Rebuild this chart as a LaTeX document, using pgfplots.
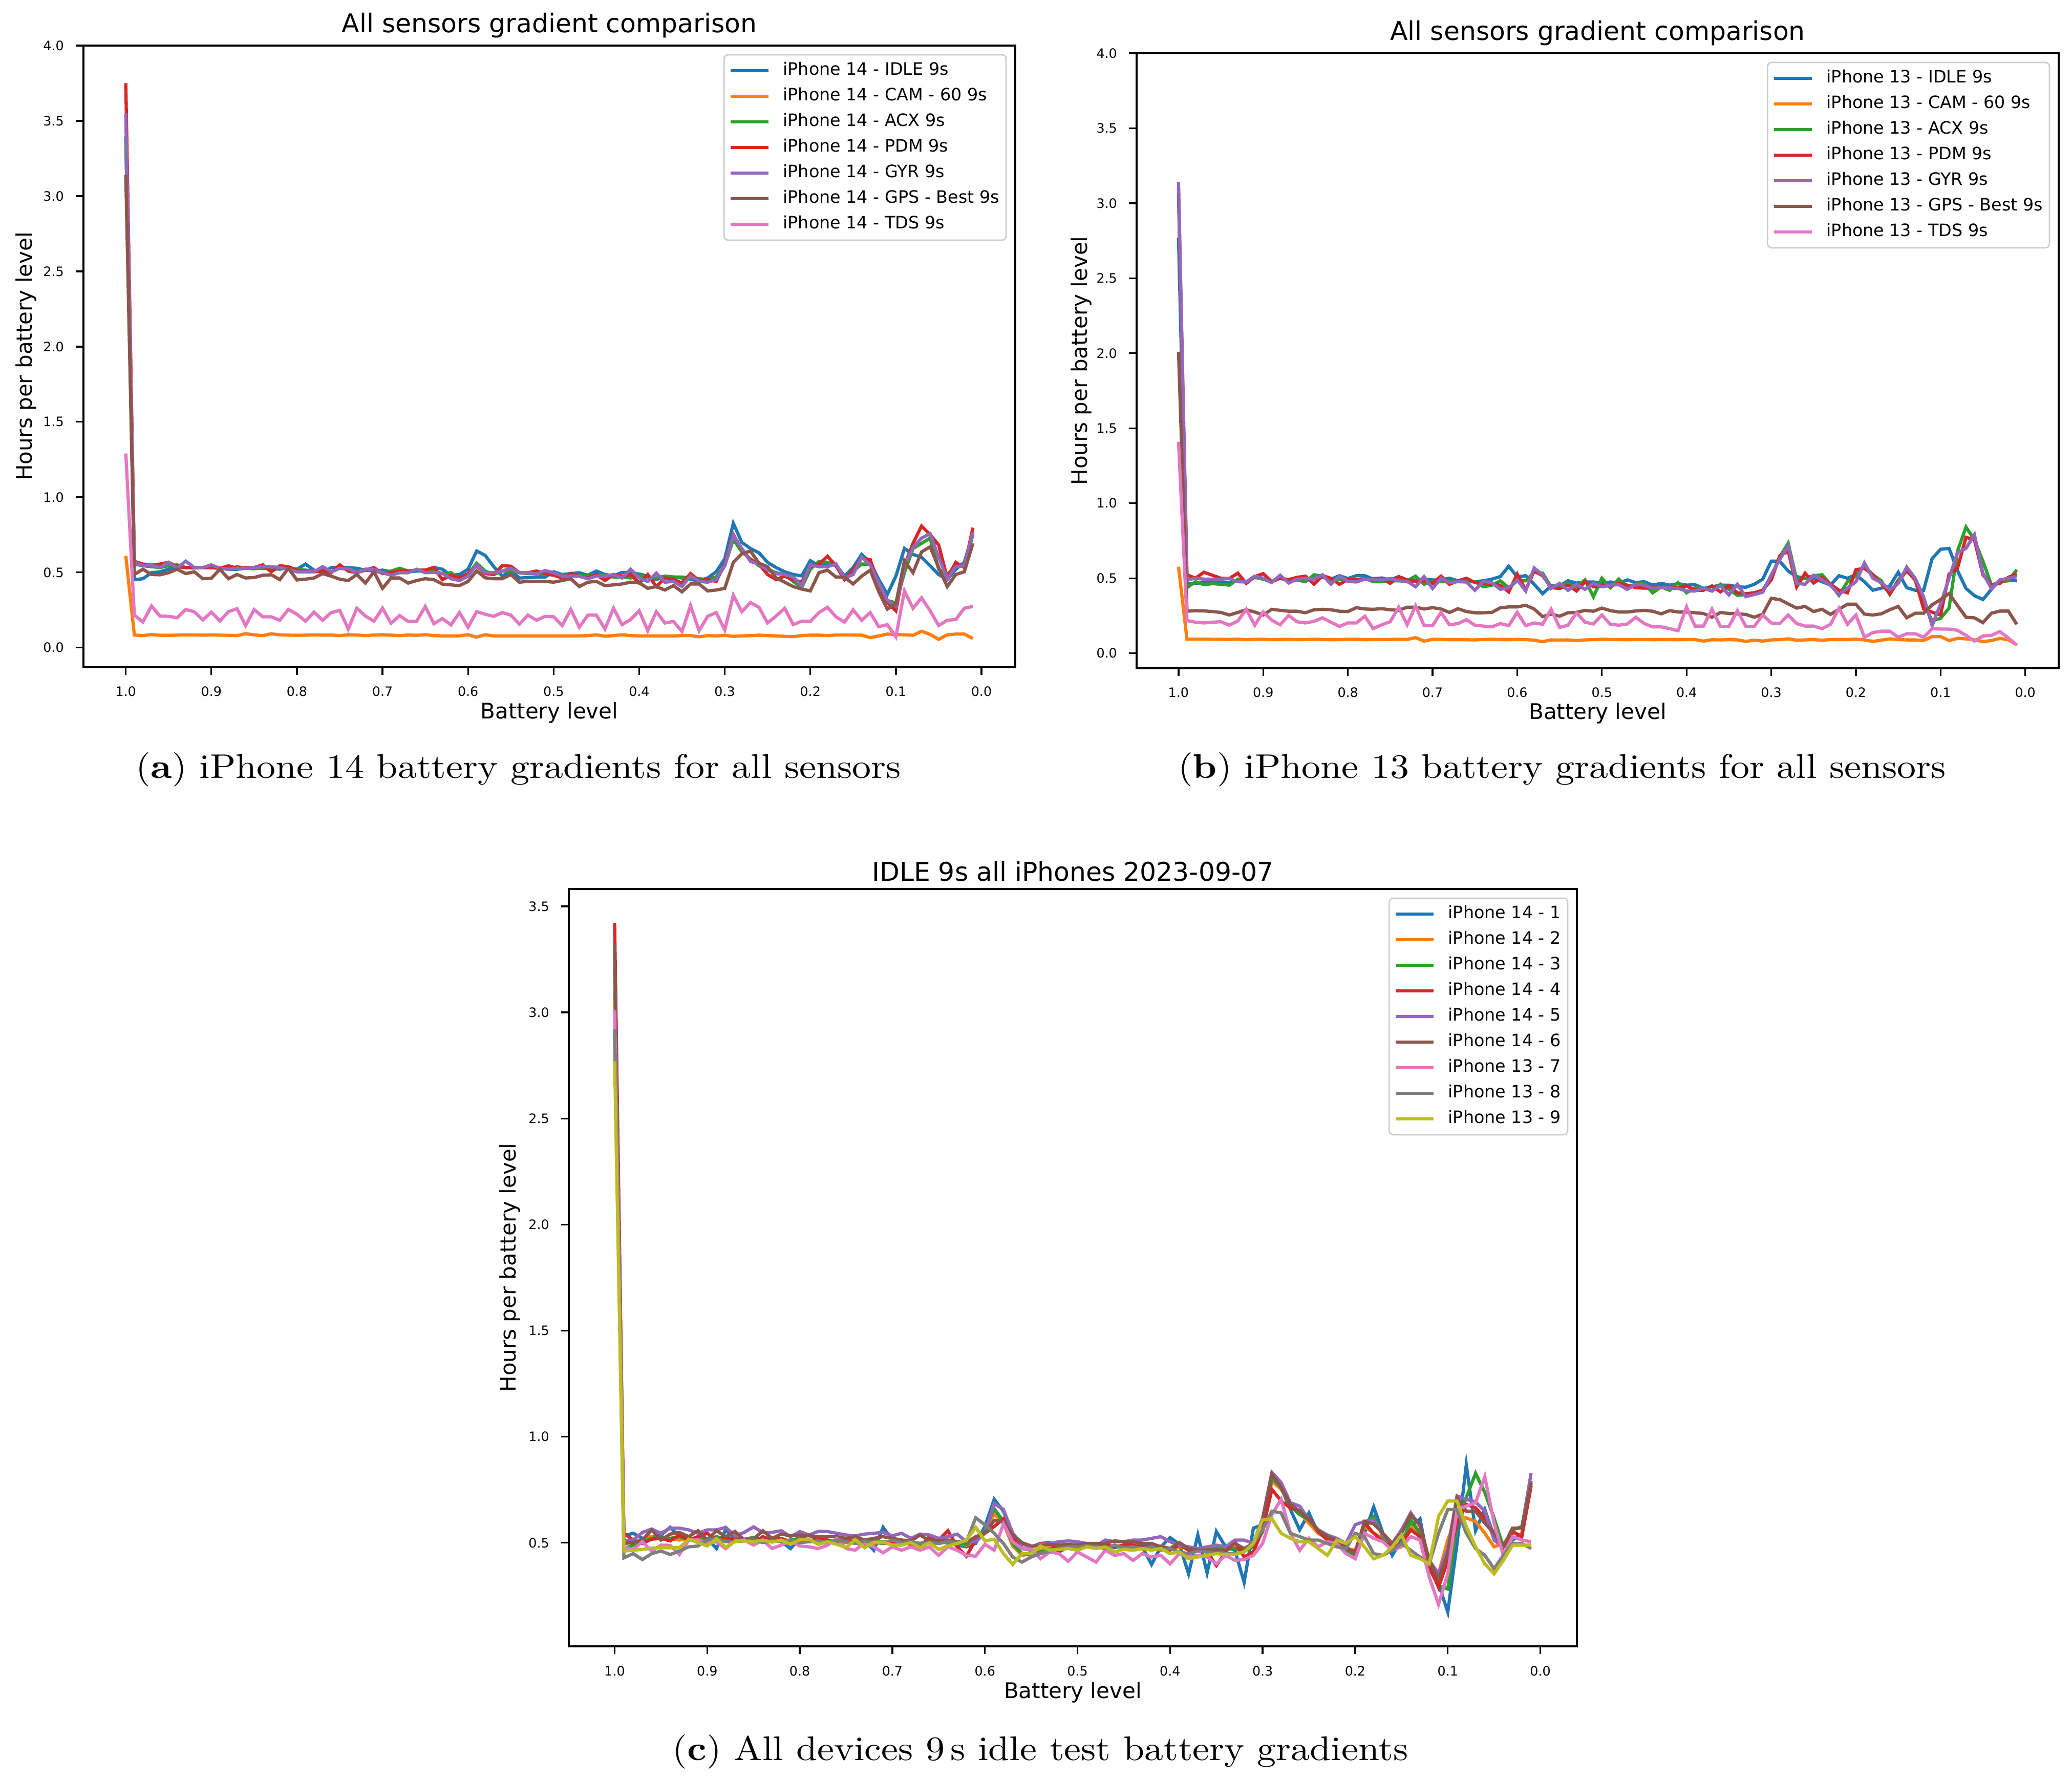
\documentclass[border=0pt]{standalone}
\usepackage{fontspec}
\setmainfont{DejaVu Sans}
\newfontfamily\capfont[Extension=.otf, UprightFont=*-regular, BoldFont=*-bold, FakeStretch=1.11]{lmroman10}
\usepackage{pgfplots}
\usepackage{pgfplotstable}
\pgfplotsset{compat=1.18}
\definecolor{c0}{HTML}{1F77B4}
\definecolor{c1}{HTML}{FF7F0E}
\definecolor{c2}{HTML}{2CA02C}
\definecolor{c3}{HTML}{D62728}
\definecolor{c4}{HTML}{9467BD}
\definecolor{c5}{HTML}{8C564B}
\definecolor{c6}{HTML}{E377C2}
\definecolor{c7}{HTML}{7F7F7F}
\definecolor{c8}{HTML}{BCBD22}

\pgfplotstableread{
x a0 a1 a2 a3 a4 a5 a6
1.00 3.40 0.61 3.38 3.75 3.55 3.14 1.29
0.99 0.452 0.084 0.555 0.573 0.567 0.486 0.216
0.98 0.458 0.080 0.544 0.555 0.544 0.521 0.170
0.97 0.498 0.087 0.538 0.550 0.550 0.486 0.277
0.96 0.504 0.082 0.532 0.555 0.532 0.484 0.210
0.95 0.521 0.082 0.544 0.567 0.567 0.498 0.208
0.94 0.538 0.083 0.550 0.538 0.527 0.521 0.199
0.93 0.532 0.085 0.532 0.532 0.575 0.492 0.253
0.92 0.532 0.084 0.529 0.532 0.532 0.504 0.239
0.91 0.532 0.083 0.532 0.532 0.532 0.458 0.184
0.90 0.532 0.085 0.532 0.532 0.550 0.461 0.236
0.89 0.527 0.083 0.527 0.527 0.527 0.521 0.178
0.88 0.521 0.082 0.521 0.544 0.521 0.458 0.239
0.87 0.521 0.080 0.538 0.527 0.527 0.486 0.259
0.86 0.527 0.093 0.527 0.532 0.527 0.463 0.147
0.85 0.532 0.085 0.524 0.532 0.532 0.466 0.253
0.84 0.527 0.080 0.530 0.550 0.538 0.481 0.205
0.83 0.527 0.092 0.521 0.504 0.538 0.484 0.205
0.82 0.521 0.085 0.527 0.544 0.532 0.452 0.182
0.81 0.532 0.083 0.527 0.538 0.521 0.527 0.254
0.80 0.521 0.082 0.521 0.515 0.504 0.450 0.222
0.79 0.555 0.083 0.515 0.509 0.504 0.455 0.176
0.78 0.515 0.085 0.509 0.504 0.504 0.463 0.236
0.77 0.498 0.083 0.515 0.509 0.538 0.492 0.182
0.76 0.532 0.084 0.504 0.498 0.504 0.475 0.233
0.75 0.532 0.080 0.527 0.550 0.527 0.455 0.247
0.74 0.532 0.086 0.521 0.509 0.525 0.446 0.124
0.73 0.527 0.084 0.509 0.498 0.498 0.486 0.262
0.72 0.515 0.080 0.521 0.515 0.521 0.429 0.210
0.71 0.509 0.084 0.509 0.532 0.521 0.504 0.176
0.70 0.515 0.086 0.498 0.492 0.498 0.394 0.262
0.69 0.504 0.083 0.509 0.498 0.481 0.463 0.162
0.68 0.509 0.080 0.527 0.509 0.498 0.463 0.213
0.67 0.504 0.084 0.509 0.509 0.498 0.429 0.174
0.66 0.509 0.082 0.515 0.515 0.521 0.446 0.176
0.65 0.509 0.086 0.504 0.515 0.498 0.458 0.274
0.64 0.532 0.080 0.509 0.533 0.500 0.452 0.159
0.63 0.521 0.078 0.492 0.452 0.494 0.422 0.193
0.62 0.481 0.078 0.498 0.481 0.458 0.417 0.151
0.61 0.486 0.078 0.458 0.463 0.446 0.412 0.233
0.60 0.521 0.086 0.486 0.492 0.475 0.440 0.136
0.59 0.642 0.070 0.561 0.544 0.550 0.510 0.239
0.58 0.613 0.086 0.509 0.492 0.498 0.464 0.222
0.57 0.538 0.078 0.486 0.486 0.498 0.458 0.208
0.56 0.475 0.078 0.509 0.544 0.509 0.458 0.233
0.55 0.509 0.078 0.509 0.541 0.527 0.486 0.216
0.54 0.463 0.078 0.498 0.498 0.498 0.435 0.156
0.53 0.465 0.078 0.492 0.498 0.498 0.440 0.216
0.52 0.469 0.078 0.492 0.509 0.490 0.440 0.182
0.51 0.469 0.078 0.486 0.492 0.512 0.440 0.208
0.50 0.504 0.078 0.486 0.481 0.498 0.435 0.205
0.49 0.486 0.078 0.481 0.463 0.475 0.446 0.147
0.48 0.492 0.078 0.475 0.492 0.475 0.458 0.254
0.47 0.498 0.078 0.481 0.475 0.475 0.406 0.136
0.46 0.481 0.080 0.475 0.463 0.458 0.435 0.216
0.45 0.509 0.085 0.486 0.486 0.475 0.440 0.216
0.44 0.486 0.076 0.481 0.446 0.475 0.412 0.124
0.43 0.477 0.080 0.469 0.486 0.486 0.417 0.262
0.42 0.500 0.086 0.469 0.475 0.463 0.423 0.153
0.41 0.498 0.080 0.463 0.486 0.521 0.435 0.187
0.40 0.489 0.078 0.481 0.429 0.463 0.431 0.245
0.39 0.475 0.078 0.469 0.486 0.440 0.394 0.113
0.38 0.452 0.078 0.463 0.406 0.495 0.406 0.239
0.37 0.475 0.078 0.475 0.463 0.435 0.383 0.164
0.36 0.469 0.078 0.469 0.454 0.440 0.412 0.174
0.35 0.463 0.080 0.469 0.429 0.406 0.371 0.107
0.34 0.452 0.080 0.463 0.492 0.478 0.423 0.279
0.33 0.446 0.072 0.458 0.446 0.440 0.423 0.113
0.32 0.463 0.080 0.452 0.452 0.435 0.377 0.208
0.31 0.504 0.078 0.469 0.440 0.452 0.383 0.233
0.30 0.590 0.082 0.544 0.555 0.544 0.394 0.118
0.29 0.826 0.075 0.720 0.751 0.745 0.567 0.348
0.28 0.699 0.078 0.636 0.653 0.659 0.624 0.239
0.27 0.659 0.080 0.590 0.584 0.573 0.642 0.300
0.26 0.630 0.083 0.544 0.555 0.555 0.561 0.268
0.25 0.567 0.080 0.521 0.486 0.515 0.538 0.164
0.24 0.532 0.078 0.498 0.452 0.492 0.463 0.210
0.23 0.504 0.075 0.486 0.475 0.486 0.435 0.262
0.22 0.486 0.073 0.440 0.452 0.469 0.406 0.153
0.21 0.477 0.080 0.400 0.435 0.412 0.389 0.176
0.20 0.578 0.083 0.521 0.538 0.550 0.377 0.174
0.19 0.544 0.083 0.573 0.555 0.538 0.498 0.233
0.18 0.555 0.080 0.567 0.607 0.538 0.515 0.268
0.17 0.550 0.084 0.544 0.544 0.555 0.469 0.205
0.16 0.475 0.084 0.452 0.452 0.463 0.469 0.170
0.15 0.532 0.084 0.509 0.515 0.486 0.423 0.251
0.14 0.619 0.083 0.555 0.596 0.601 0.475 0.182
0.13 0.567 0.067 0.555 0.584 0.550 0.515 0.233
0.12 0.452 0.078 0.429 0.417 0.429 0.371 0.139
0.11 0.354 0.090 0.314 0.302 0.314 0.256 0.153
0.10 0.475 0.088 0.297 0.245 0.274 0.291 0.072
0.09 0.659 0.085 0.498 0.544 0.544 0.578 0.377
0.08 0.619 0.082 0.659 0.693 0.665 0.498 0.262
0.07 0.601 0.109 0.693 0.808 0.728 0.636 0.331
0.06 0.544 0.088 0.728 0.751 0.757 0.670 0.245
0.05 0.486 0.055 0.521 0.682 0.601 0.532 0.147
0.04 0.452 0.085 0.486 0.463 0.458 0.406 0.182
0.03 0.521 0.090 0.544 0.567 0.538 0.486 0.187
0.02 0.567 0.090 0.544 0.532 0.544 0.504 0.262
0.01 0.762 0.061 0.751 0.797 0.768 0.693 0.274
}\tabA

\pgfplotstableread{
x b0 b1 b2 b3 b4 b5 b6
1.00 2.77 0.577 3.05 3.10 3.14 2.01 1.41
0.99 0.466 0.093 0.437 0.523 0.489 0.280 0.218
0.98 0.466 0.094 0.477 0.500 0.500 0.284 0.207
0.97 0.471 0.094 0.457 0.540 0.494 0.282 0.202
0.96 0.475 0.093 0.464 0.520 0.494 0.278 0.207
0.95 0.471 0.093 0.460 0.500 0.494 0.272 0.210
0.94 0.471 0.092 0.454 0.498 0.498 0.255 0.187
0.93 0.483 0.094 0.494 0.534 0.477 0.272 0.215
0.92 0.477 0.091 0.477 0.466 0.475 0.290 0.293
0.91 0.509 0.093 0.506 0.511 0.514 0.275 0.187
0.90 0.494 0.093 0.494 0.531 0.500 0.255 0.275
0.89 0.477 0.091 0.477 0.477 0.471 0.293 0.221
0.88 0.506 0.092 0.500 0.500 0.520 0.286 0.190
0.87 0.483 0.093 0.483 0.491 0.468 0.280 0.252
0.86 0.491 0.091 0.489 0.506 0.494 0.280 0.210
0.85 0.494 0.092 0.477 0.514 0.498 0.270 0.202
0.84 0.500 0.093 0.523 0.460 0.494 0.290 0.213
0.83 0.506 0.092 0.514 0.517 0.523 0.293 0.236
0.82 0.494 0.090 0.489 0.500 0.460 0.290 0.207
0.81 0.517 0.091 0.494 0.460 0.514 0.280 0.179
0.80 0.498 0.093 0.491 0.491 0.479 0.278 0.202
0.79 0.517 0.093 0.489 0.489 0.475 0.304 0.202
0.78 0.517 0.090 0.500 0.494 0.494 0.295 0.247
0.77 0.494 0.091 0.477 0.498 0.494 0.293 0.164
0.76 0.502 0.092 0.477 0.500 0.489 0.297 0.190
0.75 0.489 0.092 0.483 0.466 0.498 0.290 0.210
0.74 0.511 0.093 0.483 0.511 0.483 0.286 0.307
0.73 0.489 0.092 0.483 0.489 0.479 0.307 0.190
0.72 0.489 0.104 0.514 0.477 0.443 0.307 0.316
0.71 0.494 0.081 0.460 0.483 0.511 0.295 0.184
0.70 0.489 0.093 0.477 0.466 0.432 0.304 0.184
0.69 0.489 0.093 0.477 0.514 0.500 0.295 0.272
0.68 0.500 0.090 0.477 0.460 0.471 0.272 0.190
0.67 0.483 0.090 0.483 0.483 0.477 0.297 0.198
0.66 0.483 0.090 0.477 0.500 0.475 0.278 0.224
0.65 0.477 0.089 0.477 0.471 0.420 0.270 0.187
0.64 0.483 0.092 0.443 0.466 0.479 0.270 0.181
0.63 0.494 0.093 0.454 0.460 0.471 0.272 0.176
0.62 0.511 0.091 0.483 0.454 0.426 0.303 0.198
0.61 0.580 0.090 0.437 0.409 0.437 0.309 0.184
0.60 0.509 0.093 0.483 0.528 0.489 0.309 0.272
0.59 0.517 0.091 0.483 0.420 0.415 0.320 0.184
0.58 0.460 0.087 0.540 0.548 0.568 0.295 0.202
0.57 0.397 0.077 0.534 0.517 0.523 0.244 0.193
0.56 0.449 0.089 0.443 0.437 0.432 0.261 0.293
0.55 0.449 0.088 0.454 0.432 0.466 0.247 0.172
0.54 0.483 0.089 0.466 0.454 0.420 0.270 0.187
0.53 0.468 0.084 0.443 0.415 0.460 0.272 0.270
0.52 0.475 0.089 0.489 0.477 0.426 0.286 0.207
0.51 0.475 0.091 0.377 0.443 0.466 0.280 0.195
0.50 0.468 0.093 0.500 0.449 0.443 0.301 0.255
0.49 0.475 0.092 0.437 0.449 0.454 0.284 0.193
0.48 0.466 0.091 0.494 0.466 0.457 0.275 0.187
0.47 0.489 0.090 0.443 0.454 0.426 0.275 0.195
0.46 0.471 0.092 0.460 0.437 0.460 0.282 0.240
0.45 0.477 0.092 0.466 0.434 0.454 0.286 0.198
0.44 0.454 0.090 0.403 0.434 0.432 0.280 0.176
0.43 0.466 0.091 0.443 0.443 0.437 0.263 0.176
0.42 0.454 0.091 0.420 0.434 0.434 0.284 0.164
0.41 0.464 0.090 0.471 0.437 0.432 0.275 0.150
0.40 0.454 0.091 0.403 0.449 0.415 0.275 0.309
0.39 0.457 0.091 0.437 0.420 0.415 0.270 0.181
0.38 0.432 0.081 0.432 0.420 0.434 0.265 0.181
0.37 0.443 0.090 0.415 0.449 0.415 0.240 0.293
0.36 0.454 0.089 0.460 0.409 0.449 0.272 0.179
0.35 0.454 0.091 0.426 0.449 0.389 0.265 0.179
0.34 0.443 0.089 0.386 0.403 0.460 0.263 0.284
0.33 0.440 0.079 0.392 0.397 0.377 0.259 0.179
0.32 0.460 0.087 0.403 0.403 0.392 0.240 0.179
0.31 0.494 0.081 0.420 0.420 0.407 0.261 0.255
0.30 0.614 0.089 0.511 0.489 0.523 0.366 0.202
0.29 0.614 0.091 0.642 0.648 0.625 0.358 0.198
0.28 0.548 0.096 0.733 0.682 0.716 0.329 0.255
0.27 0.511 0.087 0.489 0.443 0.466 0.301 0.198
0.26 0.500 0.089 0.500 0.534 0.460 0.312 0.181
0.25 0.498 0.091 0.517 0.468 0.520 0.278 0.181
0.24 0.477 0.087 0.523 0.506 0.489 0.293 0.164
0.23 0.454 0.091 0.460 0.460 0.454 0.259 0.193
0.22 0.517 0.091 0.386 0.420 0.392 0.293 0.300
0.21 0.500 0.091 0.477 0.403 0.434 0.327 0.193
0.20 0.523 0.094 0.517 0.557 0.477 0.327 0.255
0.19 0.477 0.089 0.585 0.566 0.602 0.261 0.107
0.18 0.420 0.079 0.523 0.523 0.500 0.255 0.138
0.17 0.434 0.087 0.483 0.466 0.471 0.263 0.147
0.16 0.449 0.096 0.392 0.397 0.423 0.290 0.147
0.15 0.540 0.091 0.489 0.477 0.466 0.312 0.107
0.14 0.437 0.089 0.551 0.551 0.574 0.236 0.130
0.13 0.420 0.089 0.489 0.489 0.500 0.267 0.130
0.12 0.420 0.085 0.329 0.295 0.375 0.267 0.107
0.11 0.631 0.111 0.216 0.274 0.184 0.323 0.164
0.10 0.693 0.111 0.233 0.255 0.329 0.358 0.161
0.09 0.699 0.085 0.301 0.528 0.500 0.398 0.161
0.08 0.551 0.099 0.682 0.568 0.671 0.318 0.153
0.07 0.432 0.096 0.841 0.773 0.699 0.240 0.119
0.06 0.384 0.090 0.756 0.756 0.790 0.236 0.081
0.05 0.358 0.077 0.614 0.523 0.534 0.204 0.115
0.04 0.426 0.085 0.454 0.454 0.432 0.267 0.119
0.03 0.489 0.099 0.477 0.466 0.489 0.281 0.145
0.02 0.489 0.090 0.483 0.506 0.500 0.281 0.102
0.01 0.483 0.056 0.557 0.528 0.511 0.193 0.054
}\tabB

\pgfplotstableread{
x c0 c1 c2 c3 c4 c5 c6 c7 c8
1.00 2.90 3.10 3.20 3.42 3.30 3.32 3.01 2.92 2.77
0.99 0.533 0.497 0.473 0.545 0.509 0.497 0.481 0.429 0.461
0.98 0.545 0.505 0.489 0.513 0.513 0.501 0.469 0.449 0.465
0.97 0.521 0.513 0.505 0.497 0.549 0.513 0.505 0.421 0.469
0.96 0.529 0.529 0.521 0.517 0.565 0.561 0.461 0.449 0.475
0.95 0.537 0.517 0.529 0.521 0.545 0.513 0.489 0.461 0.477
0.94 0.573 0.521 0.521 0.509 0.569 0.541 0.488 0.445 0.477
0.93 0.529 0.513 0.529 0.537 0.569 0.549 0.445 0.461 0.477
0.92 0.521 0.521 0.517 0.513 0.561 0.529 0.513 0.481 0.517
0.91 0.513 0.509 0.521 0.529 0.545 0.557 0.515 0.485 0.501
0.90 0.521 0.517 0.513 0.545 0.561 0.513 0.497 0.513 0.485
0.89 0.473 0.513 0.529 0.513 0.561 0.557 0.505 0.521 0.519
0.88 0.561 0.521 0.517 0.529 0.573 0.529 0.473 0.505 0.479
0.87 0.521 0.509 0.521 0.513 0.533 0.554 0.509 0.505 0.507
0.86 0.513 0.513 0.517 0.513 0.549 0.513 0.513 0.509 0.509
0.85 0.521 0.517 0.525 0.493 0.575 0.517 0.489 0.513 0.505
0.84 0.513 0.509 0.513 0.529 0.549 0.557 0.513 0.501 0.513
0.83 0.521 0.513 0.517 0.513 0.549 0.521 0.473 0.509 0.503
0.82 0.505 0.505 0.509 0.521 0.557 0.541 0.489 0.505 0.513
0.81 0.473 0.509 0.513 0.505 0.529 0.533 0.509 0.513 0.493
0.80 0.521 0.513 0.521 0.513 0.553 0.537 0.485 0.501 0.515
0.79 0.537 0.505 0.509 0.505 0.537 0.533 0.481 0.505 0.517
0.78 0.513 0.509 0.513 0.521 0.554 0.529 0.473 0.509 0.493
0.77 0.509 0.513 0.509 0.513 0.553 0.529 0.489 0.501 0.505
0.76 0.505 0.505 0.505 0.497 0.545 0.529 0.521 0.513 0.493
0.75 0.509 0.501 0.513 0.509 0.537 0.521 0.473 0.505 0.477
0.74 0.505 0.509 0.505 0.505 0.533 0.529 0.465 0.497 0.515
0.73 0.513 0.505 0.497 0.481 0.541 0.513 0.501 0.509 0.477
0.72 0.465 0.497 0.509 0.505 0.545 0.521 0.481 0.501 0.503
0.71 0.573 0.505 0.505 0.497 0.549 0.529 0.453 0.497 0.503
0.70 0.513 0.501 0.497 0.501 0.533 0.521 0.481 0.513 0.489
0.69 0.497 0.497 0.505 0.513 0.545 0.513 0.465 0.501 0.489
0.68 0.513 0.505 0.501 0.489 0.521 0.509 0.481 0.505 0.501
0.67 0.473 0.493 0.497 0.481 0.541 0.537 0.465 0.497 0.477
0.66 0.505 0.501 0.509 0.529 0.537 0.509 0.481 0.501 0.501
0.65 0.513 0.497 0.513 0.513 0.521 0.509 0.441 0.497 0.469
0.64 0.497 0.505 0.505 0.557 0.529 0.513 0.481 0.505 0.485
0.63 0.489 0.497 0.497 0.481 0.541 0.505 0.465 0.501 0.497
0.62 0.481 0.489 0.493 0.437 0.505 0.501 0.441 0.505 0.513
0.61 0.497 0.509 0.513 0.513 0.505 0.529 0.437 0.618 0.573
0.60 0.577 0.553 0.561 0.545 0.545 0.545 0.493 0.585 0.509
0.59 0.705 0.637 0.661 0.577 0.685 0.605 0.465 0.545 0.517
0.58 0.649 0.593 0.601 0.613 0.657 0.601 0.589 0.497 0.449
0.57 0.545 0.485 0.497 0.513 0.545 0.537 0.505 0.433 0.398
0.56 0.473 0.441 0.449 0.497 0.493 0.501 0.473 0.409 0.449
0.55 0.465 0.449 0.441 0.481 0.481 0.485 0.469 0.433 0.449
0.54 0.465 0.465 0.457 0.497 0.493 0.485 0.425 0.449 0.485
0.53 0.469 0.477 0.469 0.501 0.497 0.493 0.457 0.461 0.465
0.52 0.473 0.481 0.477 0.457 0.505 0.489 0.449 0.473 0.469
0.51 0.481 0.485 0.485 0.481 0.509 0.493 0.413 0.481 0.473
0.50 0.481 0.485 0.485 0.473 0.505 0.489 0.457 0.481 0.465
0.49 0.493 0.489 0.481 0.485 0.497 0.497 0.433 0.485 0.481
0.48 0.481 0.477 0.489 0.489 0.485 0.497 0.409 0.481 0.473
0.47 0.489 0.485 0.481 0.493 0.513 0.497 0.465 0.473 0.481
0.46 0.477 0.481 0.485 0.481 0.505 0.509 0.441 0.489 0.457
0.45 0.489 0.489 0.477 0.489 0.505 0.505 0.449 0.477 0.469
0.44 0.481 0.485 0.481 0.489 0.513 0.505 0.417 0.481 0.465
0.43 0.481 0.477 0.485 0.481 0.513 0.497 0.449 0.473 0.473
0.42 0.398 0.481 0.477 0.493 0.521 0.497 0.433 0.481 0.465
0.41 0.481 0.485 0.481 0.481 0.529 0.481 0.441 0.465 0.473
0.40 0.525 0.473 0.473 0.465 0.505 0.473 0.401 0.473 0.449
0.39 0.493 0.481 0.485 0.493 0.489 0.501 0.449 0.457 0.457
0.38 0.354 0.473 0.477 0.465 0.481 0.473 0.433 0.449 0.425
0.37 0.537 0.469 0.465 0.469 0.473 0.465 0.441 0.461 0.433
0.36 0.358 0.477 0.473 0.457 0.481 0.465 0.433 0.457 0.441
0.35 0.553 0.469 0.477 0.393 0.489 0.465 0.401 0.449 0.449
0.34 0.481 0.473 0.469 0.457 0.481 0.465 0.441 0.449 0.445
0.33 0.465 0.477 0.473 0.505 0.513 0.497 0.417 0.449 0.445
0.32 0.314 0.465 0.461 0.433 0.513 0.473 0.421 0.457 0.457
0.31 0.569 0.481 0.481 0.457 0.497 0.497 0.441 0.497 0.497
0.30 0.585 0.553 0.553 0.561 0.617 0.609 0.497 0.561 0.609
0.29 0.792 0.792 0.808 0.752 0.832 0.824 0.633 0.649 0.613
0.28 0.760 0.752 0.760 0.697 0.784 0.760 0.705 0.641 0.545
0.27 0.657 0.681 0.673 0.665 0.689 0.681 0.545 0.545 0.521
0.26 0.561 0.641 0.633 0.653 0.673 0.649 0.465 0.529 0.505
0.25 0.641 0.593 0.609 0.617 0.609 0.609 0.521 0.513 0.505
0.24 0.545 0.545 0.561 0.553 0.561 0.561 0.481 0.513 0.473
0.23 0.521 0.521 0.529 0.513 0.537 0.529 0.505 0.497 0.441
0.22 0.497 0.521 0.513 0.513 0.521 0.513 0.497 0.481 0.513
0.21 0.465 0.473 0.465 0.473 0.497 0.481 0.449 0.473 0.497
0.20 0.453 0.465 0.441 0.457 0.585 0.449 0.425 0.545 0.529
0.19 0.545 0.577 0.593 0.593 0.601 0.601 0.545 0.529 0.481
0.18 0.669 0.545 0.625 0.545 0.609 0.589 0.521 0.449 0.425
0.17 0.545 0.521 0.529 0.505 0.537 0.545 0.505 0.441 0.441
0.16 0.441 0.481 0.481 0.481 0.497 0.497 0.465 0.465 0.481
0.15 0.513 0.497 0.489 0.497 0.561 0.545 0.481 0.497 0.537
0.14 0.577 0.577 0.609 0.561 0.641 0.633 0.529 0.465 0.441
0.13 0.613 0.537 0.545 0.529 0.577 0.585 0.513 0.433 0.425
0.12 0.385 0.417 0.378 0.393 0.417 0.417 0.338 0.401 0.401
0.11 0.306 0.354 0.298 0.290 0.354 0.330 0.210 0.545 0.625
0.10 0.174 0.513 0.282 0.417 0.473 0.449 0.354 0.657 0.697
0.09 0.497 0.625 0.593 0.593 0.721 0.713 0.657 0.657 0.697
0.08 0.868 0.617 0.713 0.681 0.705 0.649 0.673 0.545 0.577
0.07 0.557 0.601 0.828 0.665 0.693 0.649 0.689 0.473 0.481
0.06 0.657 0.545 0.737 0.617 0.649 0.593 0.812 0.441 0.401
0.05 0.529 0.481 0.617 0.545 0.513 0.545 0.593 0.378 0.354
0.04 0.481 0.497 0.481 0.481 0.481 0.481 0.441 0.441 0.417
0.03 0.513 0.545 0.561 0.553 0.569 0.569 0.529 0.497 0.489
0.02 0.545 0.537 0.577 0.529 0.569 0.569 0.513 0.497 0.489
0.01 0.776 0.780 0.792 0.768 0.828 0.784 0.505 0.473 0.489
}\tabC

\pgfplotsset{
  mpl/.style={
    scale only axis,
    x dir=reverse,
    xmin=-0.0395, xmax=1.0495,
    xtick={0,0.1,0.2,0.3,0.4,0.5,0.6,0.7,0.8,0.9,1},
    tick align=outside, tick pos=left,
    major tick length=2.2pt,
    every tick/.style={black, line width=0.5pt},
    axis line style={line width=0.5pt},
    ticklabel style={font=\fontsize{3.8}{4.5}\selectfont},
    label style={font=\fontsize{6.3}{7.5}\selectfont},
    every axis title/.style={font=\fontsize{7.56}{9}\selectfont, at={(0.5,1)}, anchor=south, inner sep=0pt, yshift=2pt},
    legend cell align=left,
    legend style={at={(1,1)}, anchor=north east, xshift=-2.5pt, yshift=-2.5pt,
      draw=black!20, line width=0.4pt, rounded corners=1.2pt, fill=white,
      fill opacity=0.8, text opacity=1, font=\fontsize{5}{6}\selectfont,
      inner xsep=1.5pt, inner ysep=1.6pt, row sep=1.4pt,
      nodes={inner sep=0.5pt, text height=3.8pt, text depth=1.3pt},
      /tikz/every odd column/.append style={column sep=3.4pt}},
    legend image code/.code={\draw[#1, line width=0.9pt] (0pt,0pt) -- (11pt,0pt);},
    every axis plot/.append style={line width=0.95pt, no markers},
    xticklabel style={/pgf/number format/.cd, fixed, fixed zerofill, precision=1, assume math mode=true},
    yticklabel style={/pgf/number format/.cd, fixed, fixed zerofill, precision=1, assume math mode=true},
  }
}

\begin{document}
\begin{tikzpicture}
\useasboundingbox (0,0) rectangle (607.05pt,521.4pt);

% (a)
\begin{axis}[mpl,
  at={(24.45pt,325.95pt)}, anchor=south west,
  width=273pt, height=182.1pt,
  ymin=-0.13, ymax=4.0,
  ytick={0,0.5,1,1.5,2,2.5,3,3.5,4},
  title={All sensors gradient comparison},
  xlabel={Battery level}, ylabel={Hours per battery level},
  xlabel style={at={(axis description cs:0.5,-0.0733)}, anchor=center},
  ylabel style={at={(axis description cs:-0.0615,0.5)}, anchor=center},
]
\addplot[c0] table[x=x,y=a0] {\tabA}; \addlegendentry{iPhone 14 - IDLE 9s}
\addplot[c1] table[x=x,y=a1] {\tabA}; \addlegendentry{iPhone 14 - CAM - 60 9s}
\addplot[c2] table[x=x,y=a2] {\tabA}; \addlegendentry{iPhone 14 - ACX 9s}
\addplot[c3] table[x=x,y=a3] {\tabA}; \addlegendentry{iPhone 14 - PDM 9s}
\addplot[c4] table[x=x,y=a4] {\tabA}; \addlegendentry{iPhone 14 - GYR 9s}
\addplot[c5] table[x=x,y=a5] {\tabA}; \addlegendentry{iPhone 14 - GPS - Best 9s}
\addplot[c6] table[x=x,y=a6] {\tabA}; \addlegendentry{iPhone 14 - TDS 9s}
\end{axis}

% (b)
\begin{axis}[mpl,
  at={(333pt,325.65pt)}, anchor=south west,
  width=270.15pt, height=180.15pt,
  ymin=-0.10, ymax=4.0,
  ytick={0,0.5,1,1.5,2,2.5,3,3.5,4},
  title={All sensors gradient comparison},
  xlabel={Battery level}, ylabel={Hours per battery level},
  xlabel style={at={(axis description cs:0.5,-0.0733)}, anchor=center},
  ylabel style={at={(axis description cs:-0.06,0.5)}, anchor=center},
]
\addplot[c0] table[x=x,y=b0] {\tabB}; \addlegendentry{iPhone 13 - IDLE 9s}
\addplot[c1] table[x=x,y=b1] {\tabB}; \addlegendentry{iPhone 13 - CAM - 60 9s}
\addplot[c2] table[x=x,y=b2] {\tabB}; \addlegendentry{iPhone 13 - ACX 9s}
\addplot[c3] table[x=x,y=b3] {\tabB}; \addlegendentry{iPhone 13 - PDM 9s}
\addplot[c4] table[x=x,y=b4] {\tabB}; \addlegendentry{iPhone 13 - GYR 9s}
\addplot[c5] table[x=x,y=b5] {\tabB}; \addlegendentry{iPhone 13 - GPS - Best 9s}
\addplot[c6] table[x=x,y=b6] {\tabB}; \addlegendentry{iPhone 13 - TDS 9s}
\end{axis}

% (c)
\begin{axis}[mpl,
  at={(166.65pt,39.15pt)}, anchor=south west,
  width=295.35pt, height=221.85pt,
  ymin=0.012, ymax=3.582,
  ytick={0.5,1,1.5,2,2.5,3,3.5},
  title={IDLE 9s all iPhones 2023-09-07},
  xlabel={Battery level}, ylabel={Hours per battery level},
  xlabel style={at={(axis description cs:0.5,-0.0609)}, anchor=center},
  ylabel style={at={(axis description cs:-0.0584,0.5)}, anchor=center},
]
\addplot[c0] table[x=x,y=c0] {\tabC}; \addlegendentry{iPhone 14 - 1}
\addplot[c1] table[x=x,y=c1] {\tabC}; \addlegendentry{iPhone 14 - 2}
\addplot[c2] table[x=x,y=c2] {\tabC}; \addlegendentry{iPhone 14 - 3}
\addplot[c3] table[x=x,y=c3] {\tabC}; \addlegendentry{iPhone 14 - 4}
\addplot[c4] table[x=x,y=c4] {\tabC}; \addlegendentry{iPhone 14 - 5}
\addplot[c5] table[x=x,y=c5] {\tabC}; \addlegendentry{iPhone 14 - 6}
\addplot[c6] table[x=x,y=c6] {\tabC}; \addlegendentry{iPhone 13 - 7}
\addplot[c7] table[x=x,y=c7] {\tabC}; \addlegendentry{iPhone 13 - 8}
\addplot[c8] table[x=x,y=c8] {\tabC}; \addlegendentry{iPhone 13 - 9}
\end{axis}

\node[anchor=base, inner sep=0pt, font=\capfont\fontsize{10}{12}\selectfont] at (151.95pt,293.4pt) {(\textbf{a}) iPhone 14 battery gradients for all sensors};
\node[anchor=base, inner sep=0pt, font=\capfont\fontsize{10}{12}\selectfont] at (457.65pt,293.4pt) {(\textbf{b}) iPhone 13 battery gradients for all sensors};
\node[anchor=base, inner sep=0pt, font=\capfont\fontsize{10}{12}\selectfont] at (304.8pt,5.7pt) {(\textbf{c}) All devices 9\,s idle test battery gradients};
\end{tikzpicture}
\end{document}
